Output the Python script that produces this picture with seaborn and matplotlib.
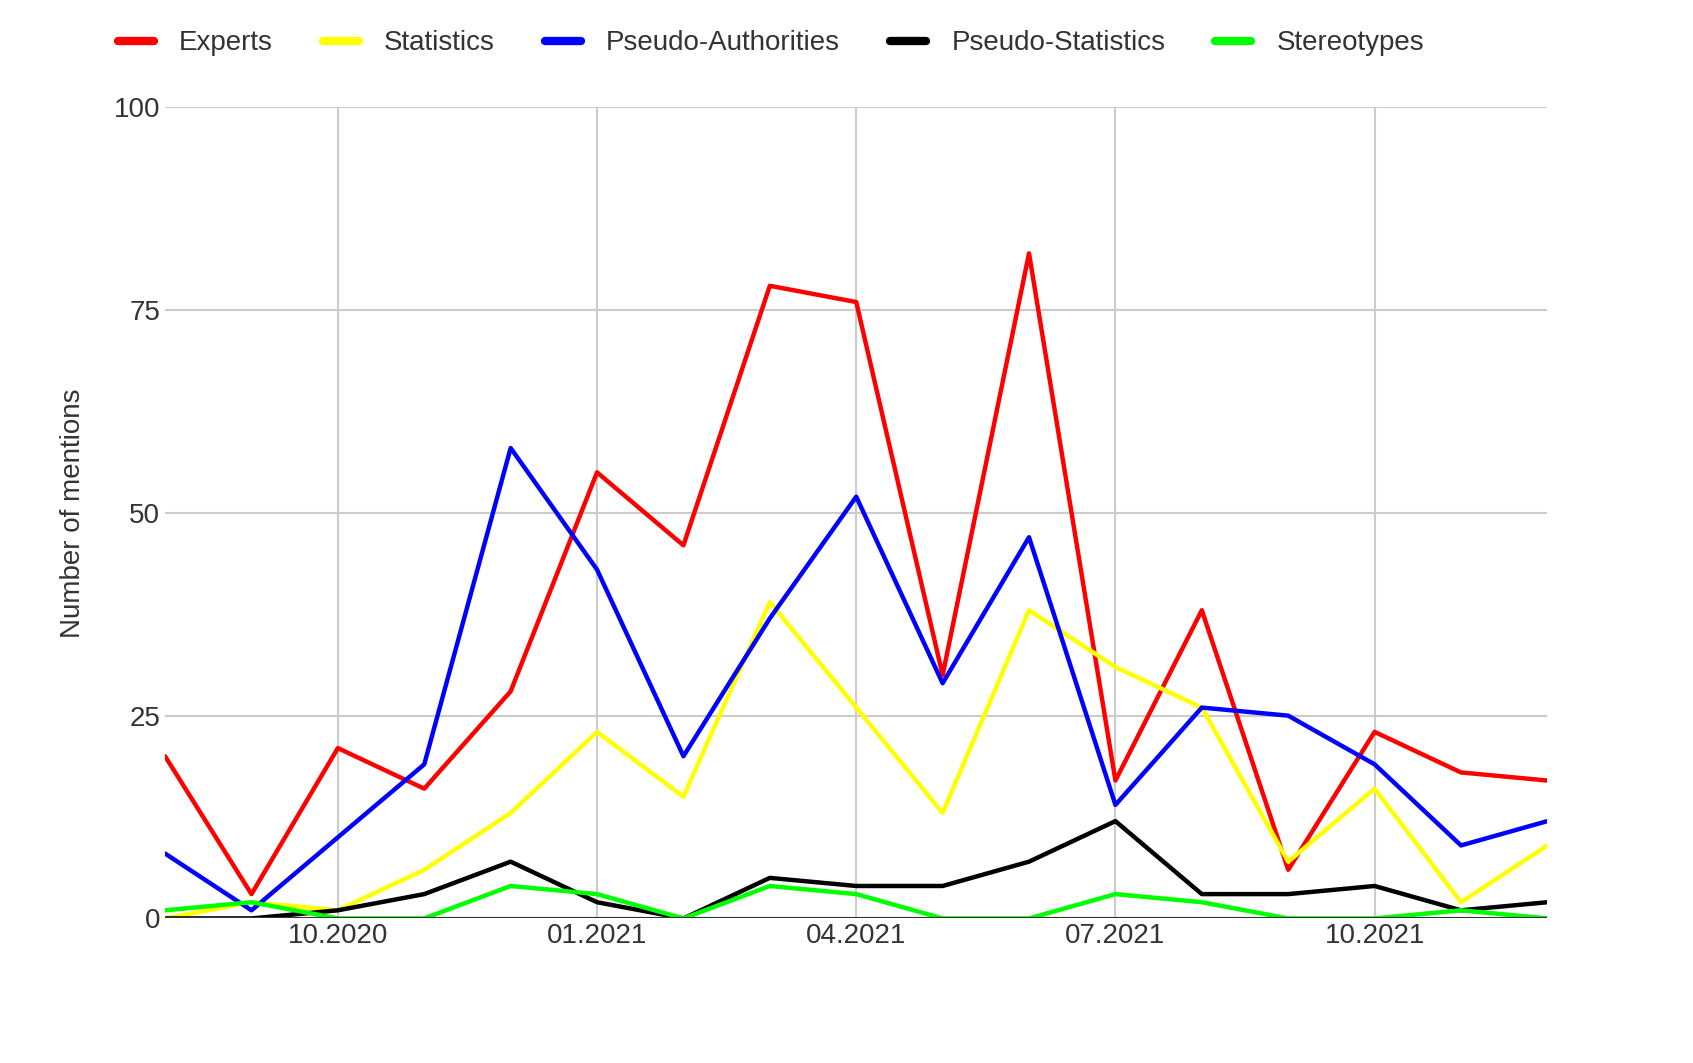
import pandas as pd
import seaborn as sns
import matplotlib.pyplot as plt

months = ["08.2020", "09.2020", "10.2020", "11.2020", "12.2020", "01.2021", "02.2021",
          "03.2021", "04.2021", "05.2021", "06.2021", "07.2021", "08.2021", "09.2021",
          "10.2021", "11.2021", "12.2021"]
experts = [20, 3, 21, 16, 28, 55, 46, 78, 76, 30, 82, 17, 38, 6, 23, 18, 17]
statistics = [0, 2, 1, 6, 13, 23, 15, 39, 26, 13, 38, 31, 26, 7, 16, 2, 9]
pseudo_auth = [8, 1, 10, 19, 58, 43, 20, 37, 52, 29, 47, 14, 26, 25, 19, 9, 12]
pseudo_stats = [0, 0, 1, 3, 7, 2, 0, 5, 4, 4, 7, 12, 3, 3, 4, 1, 2]
stereotypes = [1, 2, 0, 0, 4, 3, 0, 4, 3, 0, 0, 3, 2, 0, 0, 1, 0]
tick_labels = ["10.2020", "01.2021", "04.2021", "07.2021", "10.2021"]

series = {
    "Experts": experts,
    "Statistics": statistics,
    "Pseudo-Authorities": pseudo_auth,
    "Pseudo-Statistics": pseudo_stats,
    "Stereotypes": stereotypes,
}
palette = {"Experts": "#ff0000", "Statistics": "#ffff00", "Pseudo-Authorities": "#0000ff",
           "Pseudo-Statistics": "#000000", "Stereotypes": "#00ff00"}

rows = []
for name, vals in series.items():
    for i, v in enumerate(vals):
        rows.append({"idx": i, "value": v, "series": name})
df = pd.DataFrame(rows)

sns.set_style("whitegrid")
plt.rcParams['font.family'] = ['Liberation Sans', 'DejaVu Sans']

fig = plt.figure(figsize=(16.93, 10.63), dpi=100)
ax = fig.add_axes([0.0975, 0.136, 0.8165, 0.763])
sns.lineplot(data=df, x="idx", y="value", hue="series", palette=palette, linewidth=3.2, ax=ax)

ax.set_xlim(0, len(months) - 1)
ax.set_ylim(0, 100)
ax.set_yticks([0, 25, 50, 75, 100])
ax.set_xticks([months.index(t) for t in tick_labels])
ax.set_xticklabels(tick_labels)
ax.tick_params(labelsize=20, colors="#333333", length=0)
ax.set_xlabel("")
ax.set_ylabel("Number of mentions", fontsize=20, color="#333333", labelpad=20)
ax.grid(color="#cccccc", linewidth=1.5)
for s in ax.spines.values():
    s.set_visible(False)
ax.axhline(0, color="#333333", linewidth=1.5)

handles, labels = ax.get_legend_handles_labels()
ax.get_legend().remove()
leg = fig.legend(handles, labels, loc="upper left", bbox_to_anchor=(0.055, 0.995), ncol=5,
                 frameon=False, fontsize=20, handlelength=1.3, handletextpad=0.9,
                 columnspacing=1.8, labelcolor="#333333")
for line in leg.get_lines():
    line.set_linewidth(6)

fig.savefig("out.png", dpi=100)
